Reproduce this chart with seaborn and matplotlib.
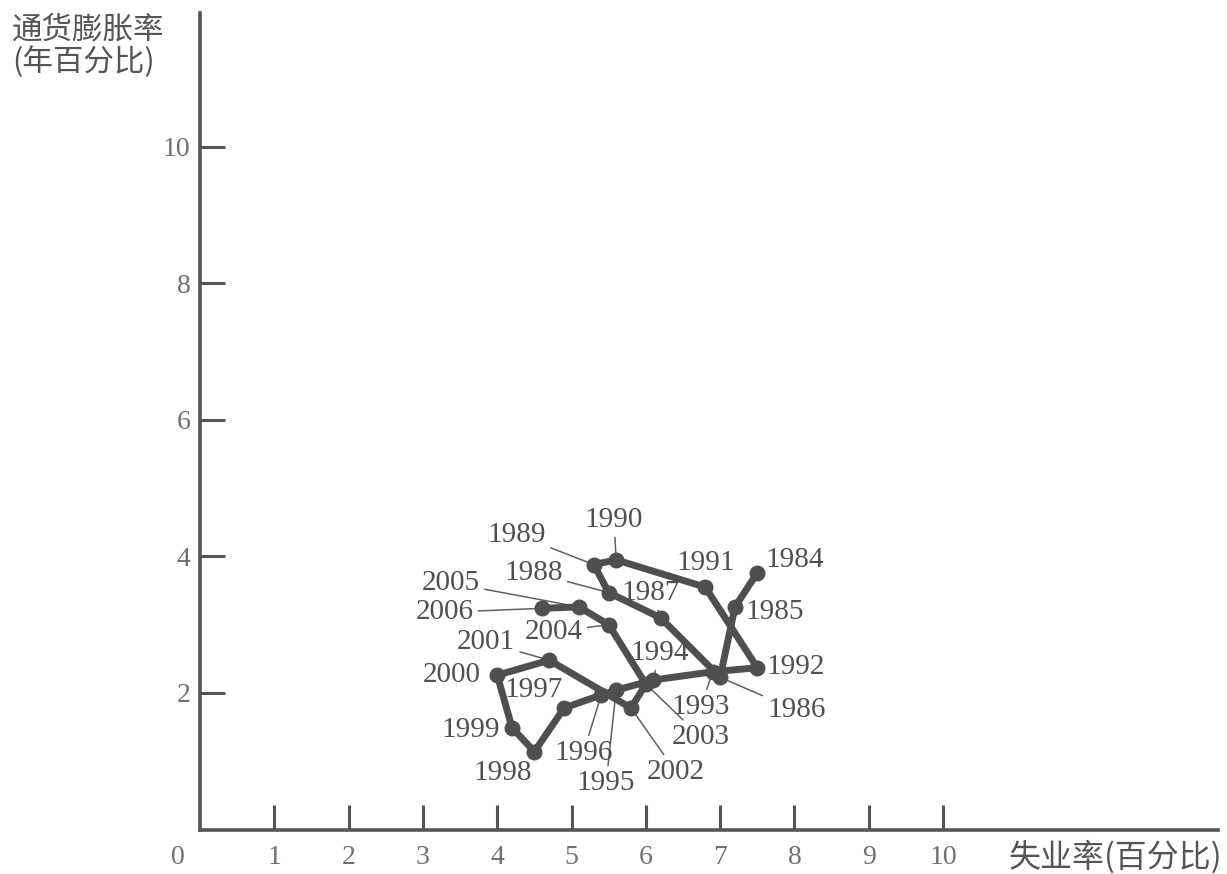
import matplotlib
matplotlib.use("Agg")
import matplotlib.pyplot as plt
import seaborn as sns
import pandas as pd

# ---- data ----
years = [1984, 1985, 1986, 1987, 1988, 1989, 1990, 1991, 1992, 1993, 1994,
         1995, 1996, 1997, 1998, 1999, 2000, 2001, 2002, 2003, 2004, 2005, 2006]
unemployment = [7.5, 7.2, 7.0, 6.2, 5.5, 5.3, 5.6, 6.8, 7.5, 6.9, 6.1,
                5.6, 5.4, 4.9, 4.5, 4.2, 4.0, 4.7, 5.8, 6.0, 5.5, 5.1, 4.6]
inflation = [3.76, 3.26, 2.23, 3.10, 3.47, 3.88, 3.95, 3.55, 2.37, 2.31, 2.19,
             2.04, 1.97, 1.78, 1.14, 1.49, 2.26, 2.48, 1.78, 2.13, 3.00, 3.26, 3.24]
x_ticks = [1, 2, 3, 4, 5, 6, 7, 8, 9, 10]
y_ticks = [2, 4, 6, 8, 10]
x_label = "失业率(百分比)"
y_label = "通货膨胀率\n(年百分比)"

# ---- layout (label offsets in pixels: dx, dy-up; leader flag) ----
label_offsets = {
    1984: (37, 13, False), 1985: (40, -5, False), 1986: (76, -33, True),
    1987: (-10, 25, True), 1988: (-75, 20, True), 1989: (-77, 30, True),
    1990: (-2, 40, True), 1991: (0, 24, False), 1992: (38, 1, False),
    1993: (-12, -35, True), 1994: (6, 27, True), 1995: (-10, -93, True),
    1996: (-18, -58, True), 1997: (-30, 18, True), 1998: (-32, -21, False),
    1999: (-41, -2, False), 2000: (-45, 0, False), 2001: (-63, 18, True),
    2002: (45, -64, True), 2003: (55, -53, True), 2004: (-55, -7, True),
    2005: (-128, 24, True), 2006: (-97, -4, True),
}

sns.set_style("white")
plt.rcParams["font.family"] = ["Liberation Serif", "DejaVu Serif"]

W, H = 1227, 874
fig = plt.figure(figsize=(W / 100, H / 100), dpi=100)
ax = fig.add_axes([200 / W, (H - 829.5) / H, 1018 / W, 816.5 / H])

df = pd.DataFrame({"u": unemployment, "p": inflation, "year": years})
line_col = "#4f4f4f"
sns.lineplot(data=df, x="u", y="p", sort=False, estimator=None, ax=ax,
             color=line_col, linewidth=5.0, marker="o", markersize=11.5,
             markeredgewidth=0, zorder=3)

ax.set_xlim(0, 13.70)
ax.set_ylim(0, 11.96)
ax.set_xticks(x_ticks)
ax.set_yticks(y_ticks)
ax.set_xlabel("")
ax.set_ylabel("")
for s in ["top", "right"]:
    ax.spines[s].set_visible(False)
for s in ["left", "bottom"]:
    ax.spines[s].set_linewidth(2.6)
    ax.spines[s].set_color("#555555")
ax.tick_params(axis="both", which="major", bottom=True, left=True,
               direction="in", length=18, width=2.2,
               color="#555555", labelcolor="#707070", labelsize=20)
ax.tick_params(axis="x", pad=11)
ax.tick_params(axis="y", pad=7)

# origin label
ax.annotate("0", xy=(0, 0), xytext=(-16, -20), textcoords="offset points",
            ha="center", va="center", fontsize=20, color="#707070",
            annotation_clip=False)

px2pt = 0.72
for yr, u, p in zip(years, unemployment, inflation):
    dx, dy, leader = label_offsets[yr]
    kw = {}
    if leader:
        kw["arrowprops"] = dict(arrowstyle="-", color="#606060", lw=1.1,
                                shrinkA=1, shrinkB=4)
    ax.annotate(str(yr), xy=(u, p), xytext=(dx * px2pt, dy * px2pt),
                textcoords="offset points", ha="center", va="center",
                fontsize=21, color="#505050", zorder=2, **kw)

cjk = ["Noto Sans CJK SC", "DejaVu Sans"]
fig.text(12 / W, 1 - 14 / H, y_label, ha="left", va="top", fontsize=22,
         color="#555555", family=cjk, linespacing=1.05)
fig.text(1222 / W, 1 - 857 / H, x_label, ha="right", va="center",
         fontsize=23, color="#555555", family=cjk)

fig.savefig("out.png", dpi=100)
